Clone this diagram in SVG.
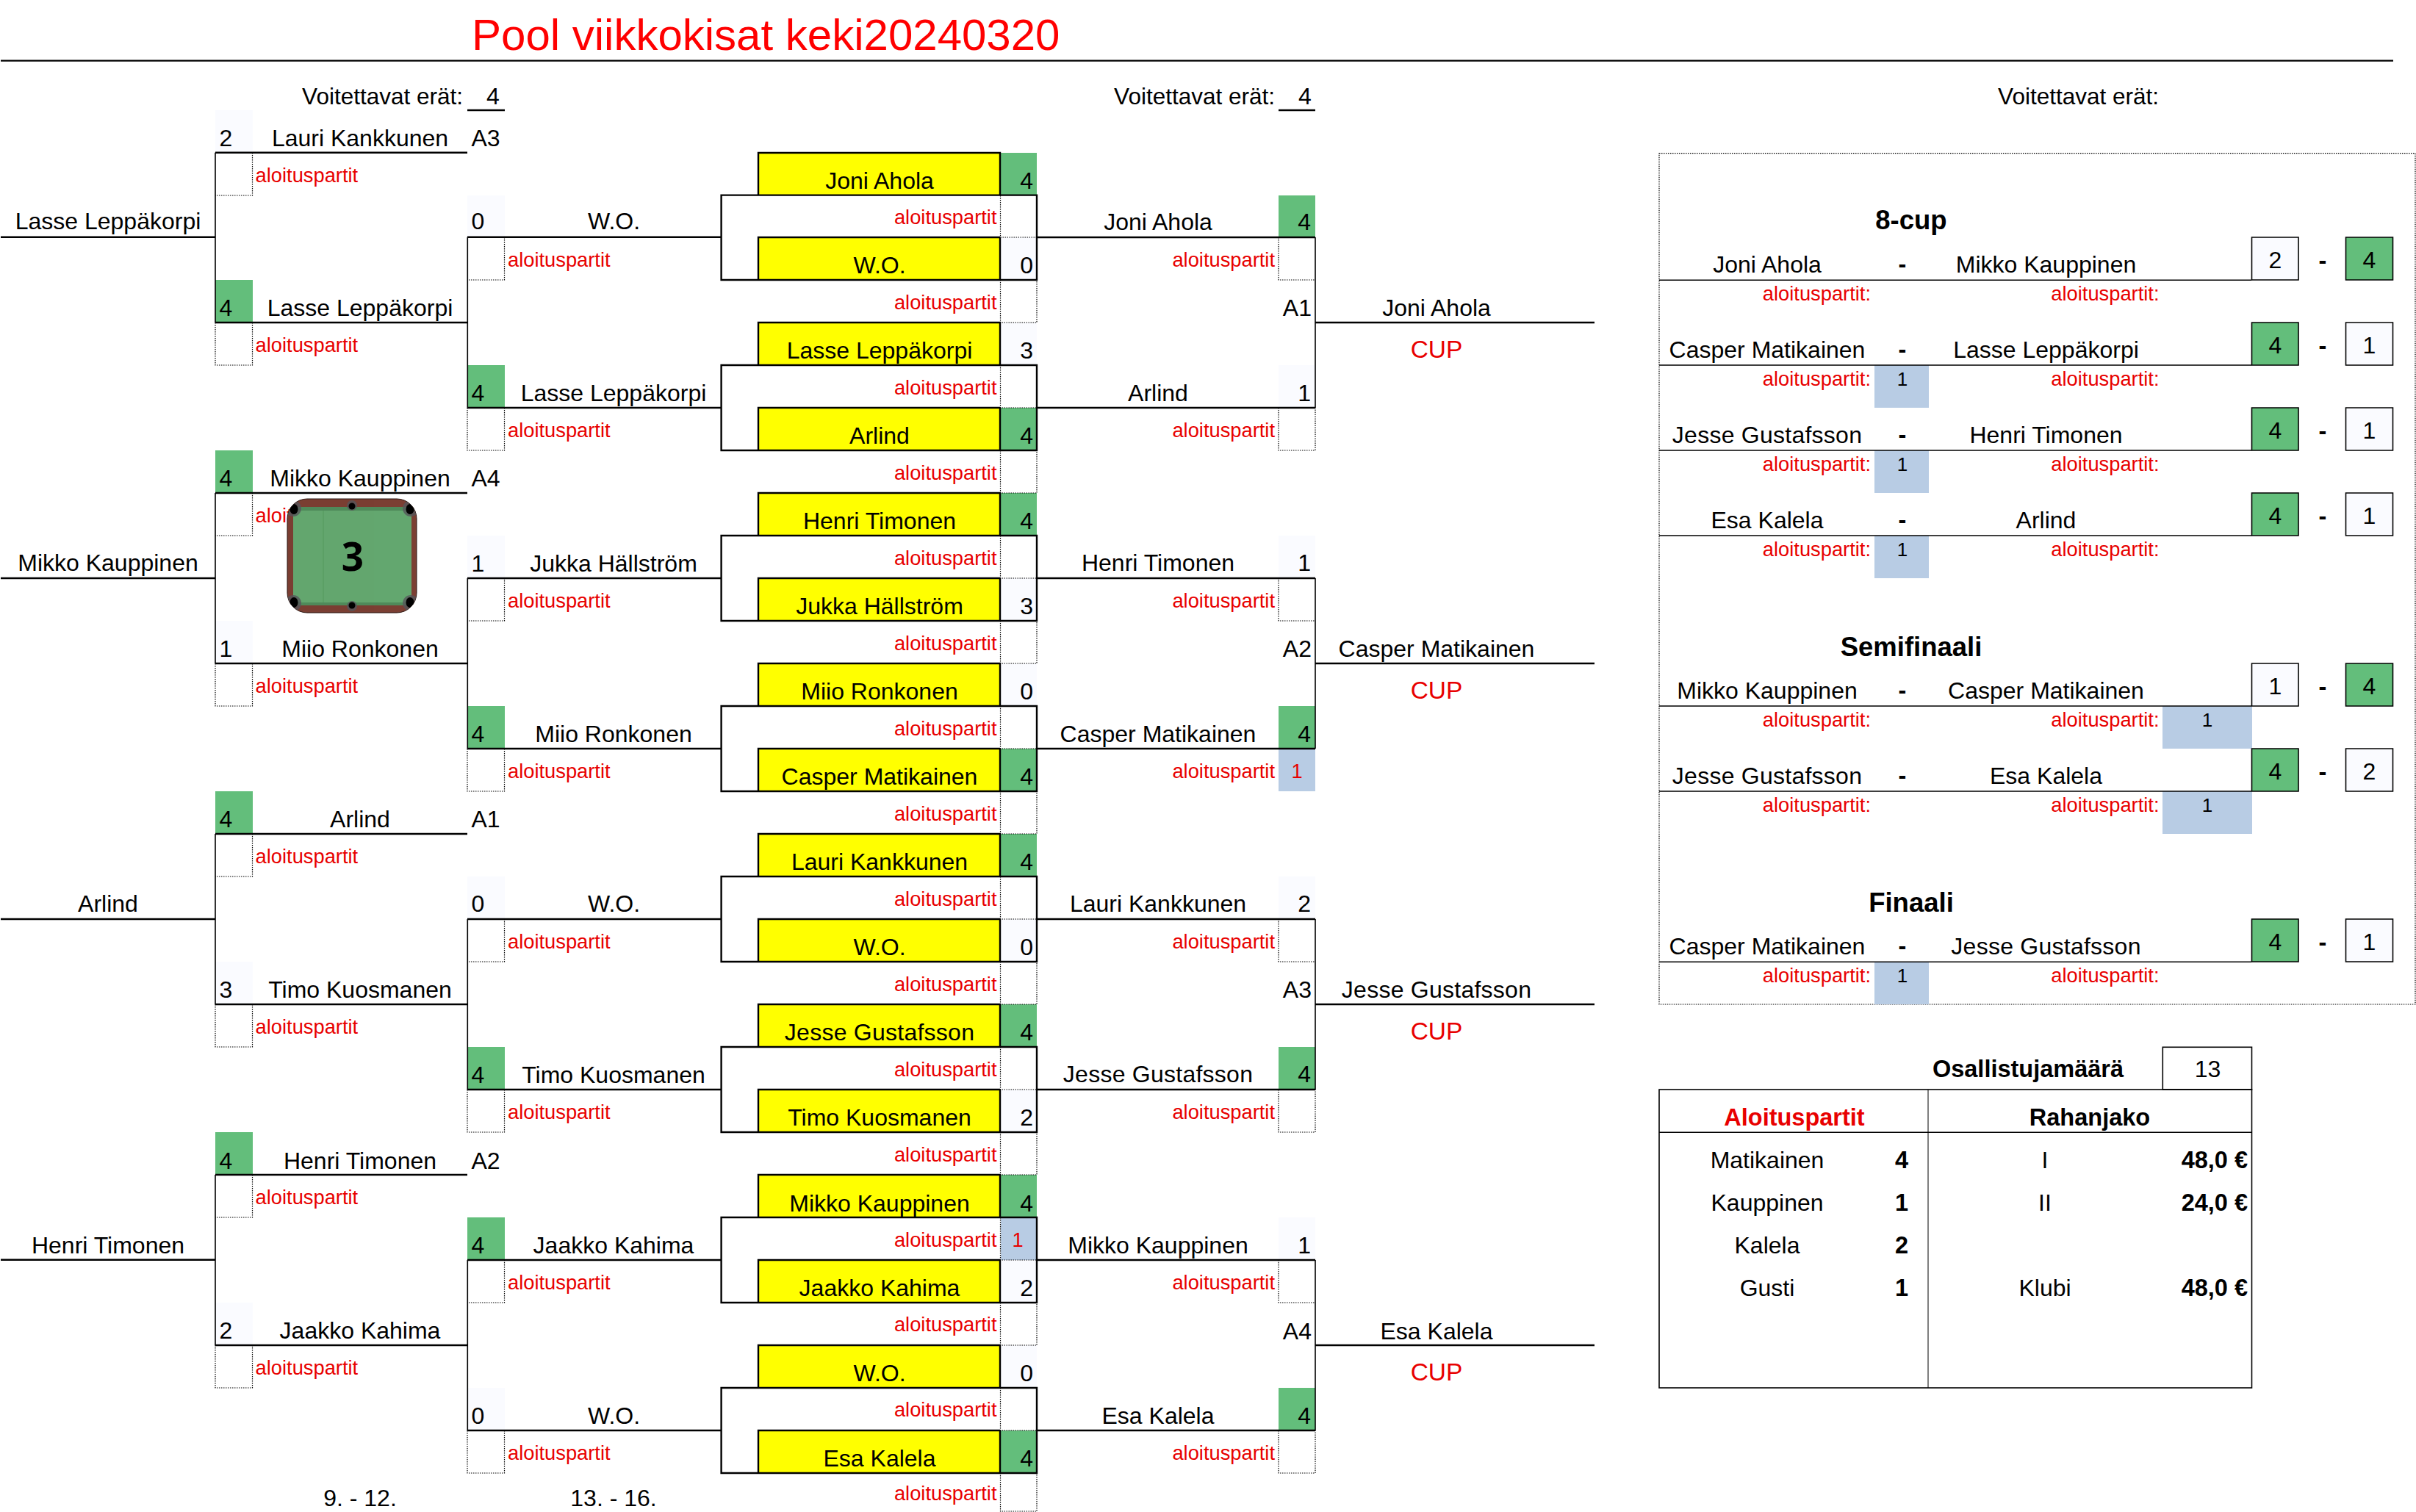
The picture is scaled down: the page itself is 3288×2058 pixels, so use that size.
<svg xmlns="http://www.w3.org/2000/svg" width="3288" height="2058" viewBox="0 0 3288 2058">
<style>
text{font-family:"Liberation Sans",Arial,sans-serif;font-size:32px;fill:#000}
.m{text-anchor:middle}
.e{text-anchor:end}
.b{font-weight:bold;font-size:32.5px}
.h{font-weight:bold;font-size:36.5px;text-anchor:middle}
.a{font-size:27.3px;fill:#e80000}
.s{font-size:26px;text-anchor:middle}
.r{fill:#e80000}
.c{font-size:33.5px}
.J{letter-spacing:.25px}
.v{font-size:31.5px}
.G{fill:#63be7b}
.F{fill:#fafbff}
.Y{fill:#ffff00}
.B{fill:#b8cce4}
.l{fill:none;stroke:#000;stroke-width:2.4}
.t{fill:none;stroke:#000;stroke-width:1.6}
.d{fill:none;stroke:#000;stroke-width:1.2;stroke-dasharray:1.5 1.5}
</style>
<defs><clipPath id="tbl"><rect x="391" y="679" width="176" height="155" rx="27"/></clipPath></defs>
<rect width="3288" height="2058" fill="#fff"/>
<g id="header">
<text x="642" y="68" style="font-size:60px;fill:#f00">Pool viikkokisat keki20240320</text>
<text x="630" y="142" class="e v">Voitettavat erät:</text>
<text x="671" y="142" class="m">4</text>
<text x="1735" y="142" class="e v">Voitettavat erät:</text>
<text x="1776" y="142" class="m">4</text>
<text x="2938" y="142" class="e v">Voitettavat erät:</text>
<text x="490" y="2050" class="m">9. - 12.</text>
<text x="835" y="2050" class="m">13. - 16.</text>
</g>

<g id="round-col0">
<text x="147" y="312" class="m">Lasse Leppäkorpi</text>
<text x="147" y="777" class="m">Mikko Kauppinen</text>
<text x="147" y="1241" class="m">Arlind</text>
<text x="147" y="1706" class="m">Henri Timonen</text>
</g>

<g id="round-colA">
<g id="a-lauri"><rect class="F" x="293" y="150" width="51" height="58"/><text x="298.5" y="199">2</text><text x="490" y="199" class="m">Lauri Kankkunen</text><text x="661" y="199" class="m">A3</text><text x="347.6" y="247.5" class="a">aloituspartit</text><path class="d" d="M343.5 208V266H293"/></g>
<g id="a-lasse"><rect class="G" x="293" y="381" width="51" height="58"/><text x="298.5" y="430">4</text><text x="490" y="430" class="m">Lasse Leppäkorpi</text><text x="347.6" y="479" class="a">aloituspartit</text><path class="d" d="M343.5 439V497H293V439"/></g>
<g id="a-mikko"><rect class="G" x="293" y="613" width="51" height="58"/><text x="298.5" y="661.5">4</text><text x="490" y="661.5" class="m">Mikko Kauppinen</text><text x="661" y="661.5" class="m">A4</text><text x="347.6" y="711" class="a">aloituspartit</text><path class="d" d="M343.5 671V729H293"/></g>
<g id="a-miio"><rect class="F" x="293" y="845" width="51" height="58"/><text x="298.5" y="893.5">1</text><text x="490" y="893.5" class="m">Miio Ronkonen</text><text x="347.6" y="943" class="a">aloituspartit</text><path class="d" d="M343.5 903V961H293V903"/></g>
<g id="a-arlind"><rect class="G" x="293" y="1077" width="51" height="58"/><text x="298.5" y="1126">4</text><text x="490" y="1126" class="m">Arlind</text><text x="661" y="1126" class="m">A1</text><text x="347.6" y="1175" class="a">aloituspartit</text><path class="d" d="M343.5 1135V1193H293"/></g>
<g id="a-timo"><rect class="F" x="293" y="1309" width="51" height="58"/><text x="298.5" y="1358">3</text><text x="490" y="1358" class="m">Timo Kuosmanen</text><text x="347.6" y="1407" class="a">aloituspartit</text><path class="d" d="M343.5 1367V1425H293V1367"/></g>
<g id="a-henri"><rect class="G" x="293" y="1541" width="51" height="58"/><text x="298.5" y="1590.5">4</text><text x="490" y="1590.5" class="m">Henri Timonen</text><text x="661" y="1590.5" class="m">A2</text><text x="347.6" y="1639" class="a">aloituspartit</text><path class="d" d="M343.5 1599V1657H293"/></g>
<g id="a-jaakko"><rect class="F" x="293" y="1773" width="51" height="58"/><text x="298.5" y="1822">2</text><text x="490" y="1822" class="m">Jaakko Kahima</text><text x="347.6" y="1871" class="a">aloituspartit</text><path class="d" d="M343.5 1831V1889H293V1831"/></g>
</g>

<g id="round-colB">
<g id="b-wo1"><rect class="F" x="636" y="266" width="51" height="58"/><text x="641.5" y="312">0</text><text x="835.5" y="312" class="m">W.O.</text><text x="691" y="363" class="a">aloituspartit</text><path class="d" d="M686.5 323V381H636"/></g>
<g id="b-lasse"><rect class="G" x="636" y="497" width="51" height="58"/><text x="641.5" y="545.5">4</text><text x="835" y="545.5" class="m">Lasse Leppäkorpi</text><text x="691" y="595" class="a">aloituspartit</text><path class="d" d="M686.5 555V613H636V555"/></g>
<g id="b-jukka"><rect class="F" x="636" y="729" width="51" height="58"/><text x="641.5" y="778">1</text><text x="835" y="778" class="m">Jukka Hällström</text><text x="691" y="827" class="a">aloituspartit</text><path class="d" d="M686.5 787V845H636"/></g>
<g id="b-miio"><rect class="G" x="636" y="961" width="51" height="58"/><text x="641.5" y="1009.5">4</text><text x="835" y="1009.5" class="m">Miio Ronkonen</text><text x="691" y="1059" class="a">aloituspartit</text><path class="d" d="M686.5 1019V1077H636V1019"/></g>
<g id="b-wo2"><rect class="F" x="636" y="1193" width="51" height="58"/><text x="641.5" y="1241">0</text><text x="835.5" y="1241" class="m">W.O.</text><text x="691" y="1291" class="a">aloituspartit</text><path class="d" d="M686.5 1251V1309H636"/></g>
<g id="b-timo"><rect class="G" x="636" y="1425" width="51" height="58"/><text x="641.5" y="1473.5">4</text><text x="835" y="1473.5" class="m">Timo Kuosmanen</text><text x="691" y="1523" class="a">aloituspartit</text><path class="d" d="M686.5 1483V1541H636V1483"/></g>
<g id="b-jaakko"><rect class="G" x="636" y="1657" width="51" height="58"/><text x="641.5" y="1706">4</text><text x="835" y="1706" class="m">Jaakko Kahima</text><text x="691" y="1755" class="a">aloituspartit</text><path class="d" d="M686.5 1715V1773H636"/></g>
<g id="b-wo3"><rect class="F" x="636" y="1889" width="51" height="58"/><text x="641.5" y="1938">0</text><text x="835.5" y="1938" class="m">W.O.</text><text x="691" y="1987" class="a">aloituspartit</text><path class="d" d="M686.5 1947V2005H636V1947"/></g>
</g>

<g id="round-middle">
<g id="m-joni"><rect class="Y" x="1032" y="208" width="330" height="58"/><rect class="G" x="1362" y="208" width="49" height="58"/><text x="1197" y="256.5" class="m">Joni Ahola</text><text x="1406" y="256.5" class="e">4</text></g>
<g id="m-wo1"><rect class="Y" x="1032" y="323" width="330" height="58"/><rect class="F" x="1362" y="323" width="49" height="58"/><text x="1197" y="372" class="m">W.O.</text><text x="1406" y="372" class="e">0</text></g>
<g id="m-lasse"><rect class="Y" x="1032" y="439" width="330" height="58"/><rect class="F" x="1362" y="439" width="49" height="58"/><text x="1197" y="488" class="m">Lasse Leppäkorpi</text><text x="1406" y="488" class="e">3</text></g>
<g id="m-arlind"><rect class="Y" x="1032" y="555" width="330" height="58"/><rect class="G" x="1362" y="555" width="49" height="58"/><text x="1197" y="604" class="m">Arlind</text><text x="1406" y="604" class="e">4</text></g>
<g id="m-henri"><rect class="Y" x="1032" y="671" width="330" height="58"/><rect class="G" x="1362" y="671" width="49" height="58"/><text x="1197" y="720" class="m">Henri Timonen</text><text x="1406" y="720" class="e">4</text></g>
<g id="m-jukka"><rect class="Y" x="1032" y="787" width="330" height="58"/><rect class="F" x="1362" y="787" width="49" height="58"/><text x="1197" y="836" class="m">Jukka Hällström</text><text x="1406" y="836" class="e">3</text></g>
<g id="m-miio"><rect class="Y" x="1032" y="903" width="330" height="58"/><rect class="F" x="1362" y="903" width="49" height="58"/><text x="1197" y="952" class="m">Miio Ronkonen</text><text x="1406" y="952" class="e">0</text></g>
<g id="m-casper"><rect class="Y" x="1032" y="1019" width="330" height="58"/><rect class="G" x="1362" y="1019" width="49" height="58"/><text x="1197" y="1068" class="m">Casper Matikainen</text><text x="1406" y="1068" class="e">4</text></g>
<g id="m-lauri"><rect class="Y" x="1032" y="1135" width="330" height="58"/><rect class="G" x="1362" y="1135" width="49" height="58"/><text x="1197" y="1184" class="m">Lauri Kankkunen</text><text x="1406" y="1184" class="e">4</text></g>
<g id="m-wo2"><rect class="Y" x="1032" y="1251" width="330" height="58"/><rect class="F" x="1362" y="1251" width="49" height="58"/><text x="1197" y="1300" class="m">W.O.</text><text x="1406" y="1300" class="e">0</text></g>
<g id="m-jesse"><rect class="Y" x="1032" y="1367" width="330" height="58"/><rect class="G" x="1362" y="1367" width="49" height="58"/><text x="1197" y="1416" class="m J">Jesse Gustafsson</text><text x="1406" y="1416" class="e">4</text></g>
<g id="m-timo"><rect class="Y" x="1032" y="1483" width="330" height="58"/><rect class="F" x="1362" y="1483" width="49" height="58"/><text x="1197" y="1532" class="m">Timo Kuosmanen</text><text x="1406" y="1532" class="e">2</text></g>
<g id="m-mikko"><rect class="Y" x="1032" y="1599" width="330" height="58"/><rect class="G" x="1362" y="1599" width="49" height="58"/><text x="1197" y="1648.5" class="m">Mikko Kauppinen</text><text x="1406" y="1648.5" class="e">4</text></g>
<g id="m-jaakko"><rect class="Y" x="1032" y="1715" width="330" height="58"/><rect class="F" x="1362" y="1715" width="49" height="58"/><text x="1197" y="1764" class="m">Jaakko Kahima</text><text x="1406" y="1764" class="e">2</text></g>
<g id="m-wo3"><rect class="Y" x="1032" y="1831" width="330" height="58"/><rect class="F" x="1362" y="1831" width="49" height="58"/><text x="1197" y="1880" class="m">W.O.</text><text x="1406" y="1880" class="e">0</text></g>
<g id="m-esa"><rect class="Y" x="1032" y="1947" width="330" height="58"/><rect class="G" x="1362" y="1947" width="49" height="58"/><text x="1197" y="1996" class="m">Esa Kalela</text><text x="1406" y="1996" class="e">4</text></g>
<g id="m-blue"><rect class="B" x="1362" y="1657" width="49" height="58"/><text x="1385" y="1696.5" class="a m">1</text></g>
<g id="m-aloitus">
<text x="1356.5" y="305" class="a e">aloituspartit</text><text x="1356.5" y="421" class="a e">aloituspartit</text><text x="1356.5" y="537" class="a e">aloituspartit</text><text x="1356.5" y="653" class="a e">aloituspartit</text><text x="1356.5" y="769" class="a e">aloituspartit</text><text x="1356.5" y="885" class="a e">aloituspartit</text><text x="1356.5" y="1001" class="a e">aloituspartit</text><text x="1356.5" y="1117" class="a e">aloituspartit</text><text x="1356.5" y="1233" class="a e">aloituspartit</text><text x="1356.5" y="1349" class="a e">aloituspartit</text><text x="1356.5" y="1465" class="a e">aloituspartit</text><text x="1356.5" y="1581" class="a e">aloituspartit</text><text x="1356.5" y="1696.5" class="a e">aloituspartit</text><text x="1356.5" y="1812" class="a e">aloituspartit</text><text x="1356.5" y="1928" class="a e">aloituspartit</text><text x="1356.5" y="2042" class="a e">aloituspartit</text>
</g>
<path id="m-dots" class="d" d="M1361.5 266V323H1411M1361.5 381V439H1411V381M1361.5 497V555H1411M1361.5 613V671H1411V613M1361.5 729V787H1411M1361.5 845V903H1411V845M1361.5 961V1019H1411M1361.5 1077V1135H1411V1077M1361.5 1193V1251H1411M1361.5 1309V1367H1411V1309M1361.5 1425V1483H1411M1361.5 1541V1599H1411V1541M1361.5 1657V1715H1411M1361.5 1773V1831H1411V1773M1361.5 1889V1947H1411M1361.5 2005V2057H1411V2005"/>
</g>

<g id="round-right">
<g id="r-joni"><rect class="G" x="1740" y="266" width="50" height="58"/><text x="1576" y="313" class="m">Joni Ahola</text><text x="1784" y="313" class="e">4</text><text x="1735" y="363" class="a e">aloituspartit</text><path class="d" d="M1740 323V381H1790"/></g>
<g id="r-arlind"><rect class="F" x="1740" y="497" width="50" height="58"/><text x="1576" y="545.5" class="m">Arlind</text><text x="1784" y="545.5" class="e">1</text><text x="1735" y="595" class="a e">aloituspartit</text><path class="d" d="M1740 555V613H1790V555"/></g>
<g id="r-henri"><rect class="F" x="1740" y="729" width="50" height="58"/><text x="1576" y="777" class="m">Henri Timonen</text><text x="1784" y="777" class="e">1</text><text x="1735" y="827" class="a e">aloituspartit</text><path class="d" d="M1740 787V845H1790"/></g>
<g id="r-casper"><rect class="G" x="1740" y="961" width="50" height="58"/><rect class="B" x="1740" y="1019" width="50" height="58"/><text x="1576" y="1009.5" class="m">Casper Matikainen</text><text x="1784" y="1009.5" class="e">4</text><text x="1735" y="1059" class="a e">aloituspartit</text><text x="1765" y="1059" class="a m">1</text></g>
<g id="r-lauri"><rect class="F" x="1740" y="1193" width="50" height="58"/><text x="1576" y="1241" class="m">Lauri Kankkunen</text><text x="1784" y="1241" class="e">2</text><text x="1735" y="1291" class="a e">aloituspartit</text><path class="d" d="M1740 1251V1309H1790"/></g>
<g id="r-jesse"><rect class="G" x="1740" y="1425" width="50" height="58"/><text x="1576" y="1473" class="m J">Jesse Gustafsson</text><text x="1784" y="1473" class="e">4</text><text x="1735" y="1523" class="a e">aloituspartit</text><path class="d" d="M1740 1483V1541H1790V1483"/></g>
<g id="r-mikko"><rect class="F" x="1740" y="1657" width="50" height="58"/><text x="1576" y="1706" class="m">Mikko Kauppinen</text><text x="1784" y="1706" class="e">1</text><text x="1735" y="1754.5" class="a e">aloituspartit</text><path class="d" d="M1740 1715V1773H1790"/></g>
<g id="r-esa"><rect class="G" x="1740" y="1889" width="50" height="58"/><text x="1576" y="1938" class="m">Esa Kalela</text><text x="1784" y="1938" class="e">4</text><text x="1735" y="1987" class="a e">aloituspartit</text><path class="d" d="M1740 1947V2005H1790V1947"/></g>
</g>

<g id="round-final">
<g id="f-joni"><text x="1785" y="430" class="e">A1</text><text x="1955" y="430" class="m">Joni Ahola</text><text x="1955" y="487" class="m r c">CUP</text></g>
<g id="f-casper"><text x="1785" y="894" class="e">A2</text><text x="1955" y="894" class="m">Casper Matikainen</text><text x="1955" y="951" class="m r c">CUP</text></g>
<g id="f-jesse"><text x="1785" y="1358" class="e">A3</text><text x="1955" y="1358" class="m J">Jesse Gustafsson</text><text x="1955" y="1415" class="m r c">CUP</text></g>
<g id="f-esa"><text x="1785" y="1822.5" class="e">A4</text><text x="1955" y="1822.5" class="m">Esa Kalela</text><text x="1955" y="1879" class="m r c">CUP</text></g>
</g>

<g id="connectors">
<path class="l" d="M1 82.6H3257"/>
<path class="l" d="M636 150H687M1740 150H1790"/>
<path class="l" d="M1 322.7H293M1 787H293M1 1251H293M1 1714.8H293"/>
<path class="l" d="M293 207.7H636M293 439H636M293 671H636M293 903H636M293 1135H636M293 1367H636M293 1599H636M293 1831H636"/>
<path class="t" d="M293 207.7V439M293 671V903M293 1135V1367M293 1599V1831"/>
<path class="l" d="M636 322.7H981M636 555H981M636 787H981M636 1019H981M636 1251H981M636 1483H981M636 1715H981M636 1947H981"/>
<path class="t" d="M636.3 322.7V555M636.3 787V1019M636.3 1251V1483M636.3 1715V1947"/>
<path class="l" d="M1032 266V208H1361V266M1361 323H1032V381M1361 323V381M1032 497V439H1361V497M1361 555H1032V613M1361 555V613M1032 729V671H1361V729M1361 787H1032V845M1361 787V845M1032 961V903H1361V961M1361 1019H1032V1077M1361 1019V1077M1032 1193V1135H1361V1193M1361 1251H1032V1309M1361 1251V1309M1032 1425V1367H1361V1425M1361 1483H1032V1541M1361 1483V1541M1032 1657V1599H1361V1657M1361 1715H1032V1773M1361 1715V1773M1032 1889V1831H1361V1889M1361 1947H1032V2005M1361 1947V2005"/>
<path class="l" d="M981.6 265.6H1411V381H981.6ZM981.6 497H1411V613H981.6ZM981.6 729H1411V845H981.6ZM981.6 961H1411V1077H981.6ZM981.6 1193H1411V1309H981.6ZM981.6 1425H1411V1541H981.6ZM981.6 1657H1411V1773H981.6ZM981.6 1889H1411V2005H981.6Z"/>
<path class="l" d="M1411 323H1790M1411 555H1790M1411 787H1790M1411 1019H1790M1411 1251H1790M1411 1483H1790M1411 1715H1790M1411 1947H1790"/>
<path class="t" d="M1790 323V555M1790 787V1019M1790 1251V1483M1790 1715V1947"/>
<path class="l" d="M1790 439H2170M1790 903H2170M1790 1367H2170M1790 1831H2170"/>
</g>

<g id="cup-panel">
<path class="d" d="M2258 208.7H3287V1367H2258Z"/>
<g id="cup-heads"><text x="2601" y="312" class="h">8-cup</text><text x="2601" y="893" class="h">Semifinaali</text><text x="2601" y="1241" class="h">Finaali</text></g>
<g id="p1"><rect class="F" x="3064.5" y="323" width="63.5" height="58"/><rect class="G" x="3192.5" y="323" width="64" height="58"/><text x="2405" y="371" class="m">Joni Ahola</text><text x="2589" y="371" class="m b">-</text><text x="2784.5" y="371" class="m">Mikko Kauppinen</text><text x="2546" y="408.5" class="a e">aloituspartit:</text><text x="2938.5" y="408.5" class="a e">aloituspartit:</text><text x="3096.5" y="365" class="m">2</text><text x="3161" y="366" class="m b">-</text><text x="3224.5" y="365" class="m">4</text></g>
<g id="p2"><rect class="G" x="3064.5" y="439" width="63.5" height="58"/><rect class="F" x="3192.5" y="439" width="64" height="58"/><rect class="B" x="2551" y="497" width="74" height="58"/><text x="2405" y="487" class="m">Casper Matikainen</text><text x="2589" y="487" class="m b">-</text><text x="2784.5" y="487" class="m">Lasse Leppäkorpi</text><text x="2546" y="524.5" class="a e">aloituspartit:</text><text x="2589" y="525" class="s">1</text><text x="2938.5" y="524.5" class="a e">aloituspartit:</text><text x="3096.5" y="481" class="m">4</text><text x="3161" y="482" class="m b">-</text><text x="3224.5" y="481" class="m">1</text></g>
<g id="p3"><rect class="G" x="3064.5" y="555" width="63.5" height="58"/><rect class="F" x="3192.5" y="555" width="64" height="58"/><rect class="B" x="2551" y="613" width="74" height="58"/><text x="2405" y="603" class="m J">Jesse Gustafsson</text><text x="2589" y="603" class="m b">-</text><text x="2784.5" y="603" class="m">Henri Timonen</text><text x="2546" y="640.5" class="a e">aloituspartit:</text><text x="2589" y="641" class="s">1</text><text x="2938.5" y="640.5" class="a e">aloituspartit:</text><text x="3096.5" y="597" class="m">4</text><text x="3161" y="598" class="m b">-</text><text x="3224.5" y="597" class="m">1</text></g>
<g id="p4"><rect class="G" x="3064.5" y="671" width="63.5" height="58"/><rect class="F" x="3192.5" y="671" width="64" height="58"/><rect class="B" x="2551" y="729" width="74" height="58"/><text x="2405" y="719" class="m">Esa Kalela</text><text x="2589" y="719" class="m b">-</text><text x="2784.5" y="719" class="m">Arlind</text><text x="2546" y="756.5" class="a e">aloituspartit:</text><text x="2589" y="757" class="s">1</text><text x="2938.5" y="756.5" class="a e">aloituspartit:</text><text x="3096.5" y="713" class="m">4</text><text x="3161" y="714" class="m b">-</text><text x="3224.5" y="713" class="m">1</text></g>
<g id="p5"><rect class="F" x="3064.5" y="903" width="63.5" height="58"/><rect class="G" x="3192.5" y="903" width="64" height="58"/><rect class="B" x="2943" y="961" width="122" height="58"/><text x="2405" y="951" class="m">Mikko Kauppinen</text><text x="2589" y="951" class="m b">-</text><text x="2784.5" y="951" class="m">Casper Matikainen</text><text x="2546" y="988.5" class="a e">aloituspartit:</text><text x="2938.5" y="988.5" class="a e">aloituspartit:</text><text x="3004" y="989" class="s">1</text><text x="3096.5" y="945" class="m">1</text><text x="3161" y="946" class="m b">-</text><text x="3224.5" y="945" class="m">4</text></g>
<g id="p6"><rect class="G" x="3064.5" y="1019" width="63.5" height="58"/><rect class="F" x="3192.5" y="1019" width="64" height="58"/><rect class="B" x="2943" y="1077" width="122" height="58"/><text x="2405" y="1067" class="m J">Jesse Gustafsson</text><text x="2589" y="1067" class="m b">-</text><text x="2784.5" y="1067" class="m">Esa Kalela</text><text x="2546" y="1104.5" class="a e">aloituspartit:</text><text x="2938.5" y="1104.5" class="a e">aloituspartit:</text><text x="3004" y="1105" class="s">1</text><text x="3096.5" y="1061" class="m">4</text><text x="3161" y="1062" class="m b">-</text><text x="3224.5" y="1061" class="m">2</text></g>
<g id="p7"><rect class="G" x="3064.5" y="1251" width="63.5" height="58"/><rect class="F" x="3192.5" y="1251" width="64" height="58"/><rect class="B" x="2551" y="1309" width="74" height="58"/><text x="2405" y="1299" class="m">Casper Matikainen</text><text x="2589" y="1299" class="m b">-</text><text x="2784.5" y="1299" class="m J">Jesse Gustafsson</text><text x="2546" y="1336.5" class="a e">aloituspartit:</text><text x="2589" y="1337" class="s">1</text><text x="2938.5" y="1336.5" class="a e">aloituspartit:</text><text x="3096.5" y="1293" class="m">4</text><text x="3161" y="1294" class="m b">-</text><text x="3224.5" y="1293" class="m">1</text></g>
<path class="t" d="M2258 381.3H3064M2258 497H3064M2258 613H3064M2258 729H3064M2258 961H3064M2258 1077H3064M2258 1309.3H3064"/>
<path class="t" d="M3064.5 323H3128V381H3064.5ZM3192.5 323H3256.5V381H3192.5ZM3064.5 439H3128V497H3064.5ZM3192.5 439H3256.5V497H3192.5ZM3064.5 555H3128V613H3064.5ZM3192.5 555H3256.5V613H3192.5ZM3064.5 671H3128V729H3064.5ZM3192.5 671H3256.5V729H3192.5ZM3064.5 903H3128V961H3064.5ZM3192.5 903H3256.5V961H3192.5ZM3064.5 1019H3128V1077H3064.5ZM3192.5 1019H3256.5V1077H3192.5ZM3064.5 1251H3128V1309H3064.5ZM3192.5 1251H3256.5V1309H3192.5Z"/>
</g>

<g id="summary">
<text x="2760" y="1466" class="m b">Osallistujamäärä</text>
<rect class="t" x="2943.3" y="1425.3" width="121.2" height="57.7"/>
<text x="3004.5" y="1466" class="m">13</text>
<rect class="t" x="2258" y="1483" width="806.5" height="406"/>
<path class="t" d="M2258 1541.2H3064.5"/>
<path d="M2624 1483V1889" fill="none" stroke="#000" stroke-width="1"/>
<text x="2442" y="1532" class="m b r">Aloituspartit</text>
<text x="2844" y="1532" class="m b">Rahanjako</text>
<text x="2405" y="1590" class="m">Matikainen</text><text x="2588" y="1590" class="m b">4</text><text x="2783" y="1590" class="m">I</text><text x="3059" y="1590" class="e b">48,0 €</text>
<text x="2405" y="1648" class="m">Kauppinen</text><text x="2588" y="1648" class="m b">1</text><text x="2783" y="1648" class="m">II</text><text x="3059" y="1648" class="e b">24,0 €</text>
<text x="2405" y="1706" class="m">Kalela</text><text x="2588" y="1706" class="m b">2</text>
<text x="2405" y="1764" class="m">Gusti</text><text x="2588" y="1764" class="m b">1</text><text x="2783" y="1764" class="m">Klubi</text><text x="3059" y="1764" class="e b">48,0 €</text>
</g>

<g id="pool-table">
<rect x="391" y="679" width="176" height="155" rx="27" fill="#7b3f33" stroke="#2b1712" stroke-width="1"/>
<g clip-path="url(#tbl)">
<rect x="399" y="690" width="161" height="134" fill="#63a76f"/>
<rect x="399" y="690" width="161" height="5" fill="#4f8a5a"/>
<rect x="399" y="820" width="161" height="4" fill="#4f8a5a"/>
<path d="M440 695V820" stroke="#57985f" stroke-width="1" fill="none"/>
<g fill="#55565a" opacity=".8"><circle cx="399" cy="692" r="11"/><circle cx="559" cy="692" r="11"/><circle cx="399" cy="821" r="11"/><circle cx="559" cy="821" r="11"/><circle cx="479" cy="688" r="7"/><circle cx="479" cy="825" r="7"/></g>
<g fill="#000"><ellipse cx="400" cy="693" rx="5.5" ry="7"/><ellipse cx="558" cy="693" rx="5.5" ry="7"/><ellipse cx="400" cy="820" rx="5.5" ry="7"/><ellipse cx="558" cy="820" rx="5.5" ry="7"/><circle cx="479" cy="689" r="4.5"/><circle cx="479" cy="824" r="4.5"/></g>
</g>
<text x="480" y="777" style="font-family:'Open Sans',sans-serif;font-weight:bold;font-size:53px;text-anchor:middle">3</text>
</g>
</svg>
